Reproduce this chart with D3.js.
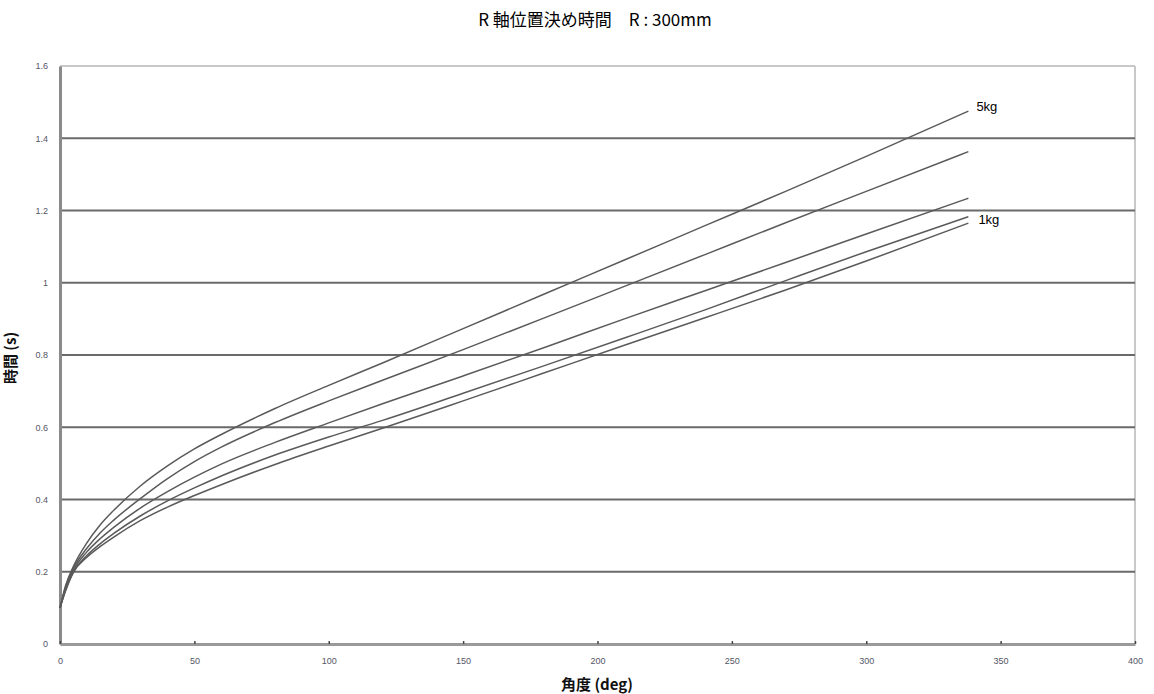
<!DOCTYPE html>
<html><head><meta charset="utf-8">
<script src="https://cdn.jsdelivr.net/npm/d3@7"></script>
<style>body{margin:0;background:#fff}svg{display:block}</style>
</head><body>
<svg id="c" width="1154" height="694"></svg>
<script>
const angles = [0, 2, 5, 10, 15, 20, 30, 40, 50, 60, 80, 100, 120, 150, 180, 210, 240, 270, 300, 338];
const series5kg = [0.1, 0.16, 0.215, 0.28, 0.33, 0.37, 0.438, 0.493, 0.54, 0.58, 0.652, 0.716, 0.778, 0.873, 0.968, 1.063, 1.158, 1.253, 1.35, 1.475];
const series4kg = [0.1, 0.155, 0.21, 0.265, 0.308, 0.343, 0.403, 0.458, 0.505, 0.545, 0.613, 0.673, 0.73, 0.815, 0.902, 0.99, 1.078, 1.166, 1.253, 1.363];
const series3kg = [0.1, 0.15, 0.205, 0.255, 0.292, 0.323, 0.377, 0.422, 0.462, 0.498, 0.558, 0.612, 0.665, 0.742, 0.82, 0.9, 0.978, 1.056, 1.135, 1.234];
const series2kg = [0.1, 0.148, 0.2, 0.245, 0.278, 0.306, 0.355, 0.396, 0.432, 0.465, 0.523, 0.573, 0.619, 0.694, 0.77, 0.847, 0.925, 1.006, 1.086, 1.183];
const series1kg = [0.1, 0.145, 0.198, 0.24, 0.27, 0.296, 0.342, 0.379, 0.411, 0.441, 0.497, 0.548, 0.597, 0.673, 0.75, 0.827, 0.903, 0.98, 1.06, 1.165];
const seriesList = [series5kg, series4kg, series3kg, series2kg, series1kg];
const seriesLabels = ["5kg", "", "", "", "1kg"];
const xTicks = [0, 50, 100, 150, 200, 250, 300, 350, 400];
const yTicks = [0, 0.2, 0.4, 0.6, 0.8, 1, 1.2, 1.4, 1.6];
const yTickLabels = ["0", "0.2", "0.4", "0.6", "0.8", "1", "1.2", "1.4", "1.6"];

const svg = d3.select("#c");
const L = 60, R = 1135, T = 66, B = 644;
const x = d3.scaleLinear().domain([0, 400]).range([L, R]);
const y = d3.scaleLinear().domain([0, 1.6]).range([B, T]);
const font = "'Liberation Sans', Arial, sans-serif";
const jfont = "'Noto Sans CJK JP', 'Liberation Sans', sans-serif";

// frame top/right
svg.append("line").attr("x1", L).attr("x2", R).attr("y1", y(1.6)).attr("y2", y(1.6)).attr("stroke", "#c8c8c8").attr("stroke-width", 2);
svg.append("line").attr("x1", R).attr("x2", R).attr("y1", T).attr("y2", B).attr("stroke", "#c8c8c8").attr("stroke-width", 2);

// gridlines
svg.append("g").selectAll("line").data(yTicks.filter(d => d > 0 && d < 1.6)).join("line")
  .attr("x1", L).attr("x2", R).attr("y1", d => y(d)).attr("y2", d => y(d))
  .attr("stroke", "#6a6a6a").attr("stroke-width", 2);

// axes
const yAxis = d3.axisLeft(y).tickValues(yTicks).tickFormat((d, i) => yTickLabels[i]).tickSize(0).tickPadding(12);
const gy = svg.append("g").attr("transform", `translate(${L},0)`).call(yAxis);
gy.select(".domain").attr("stroke", "#8a8a8a").attr("stroke-width", 3);
gy.selectAll("text").attr("font-family", font).attr("font-size", 9).attr("fill", "#556");

const xAxis = d3.axisBottom(x).tickValues(xTicks).tickFormat(d3.format("d")).tickSizeInner(-3).tickSizeOuter(0).tickPadding(14);
const gx = svg.append("g").attr("transform", `translate(0,${B})`).call(xAxis);
gx.select(".domain").attr("stroke", "#9a9a9a").attr("stroke-width", 3);
gx.selectAll(".tick line").attr("stroke", "#444").attr("stroke-width", 1.5);
gx.selectAll("text").attr("font-family", font).attr("font-size", 9).attr("fill", "#556");

// series
const line = d3.line().x((d, i) => x(angles[i])).y(d => y(d)).curve(d3.curveMonotoneX);
svg.append("g").selectAll("path").data(seriesList).join("path")
  .attr("d", d => line(d)).attr("fill", "none").attr("stroke", "#5a5a5a").attr("stroke-width", 1.5);

// series labels
svg.append("g").selectAll("text").data(seriesList.map((s, i) => ({s, i})).filter(o => seriesLabels[o.i])).join("text")
  .attr("x", o => x(angles[angles.length - 1]) + (o.i === 0 ? 8 : 10))
  .attr("y", o => y(o.s[o.s.length - 1]) + (o.i === 0 ? 0 : 1))
  .attr("font-family", font).attr("font-size", 13).attr("fill", "#000")
  .text(o => seriesLabels[o.i]);

// title
svg.append("text").attr("x", 595).attr("y", 26).attr("text-anchor", "middle")
  .attr("font-family", jfont).attr("font-size", 17).attr("fill", "#000")
  .text("R 軸位置決め時間　R : 300mm");

// axis titles
svg.append("text").attr("x", 597).attr("y", 690).attr("text-anchor", "middle")
  .attr("font-family", jfont).attr("font-size", 15).attr("font-weight", "bold").attr("fill", "#111")
  .text("角度 (deg)");
svg.append("text").attr("transform", "translate(16,358) rotate(-90)").attr("text-anchor", "middle")
  .attr("font-family", jfont).attr("font-size", 15).attr("font-weight", "bold").attr("fill", "#111")
  .text("時間 (s)");
</script>
</body></html>
